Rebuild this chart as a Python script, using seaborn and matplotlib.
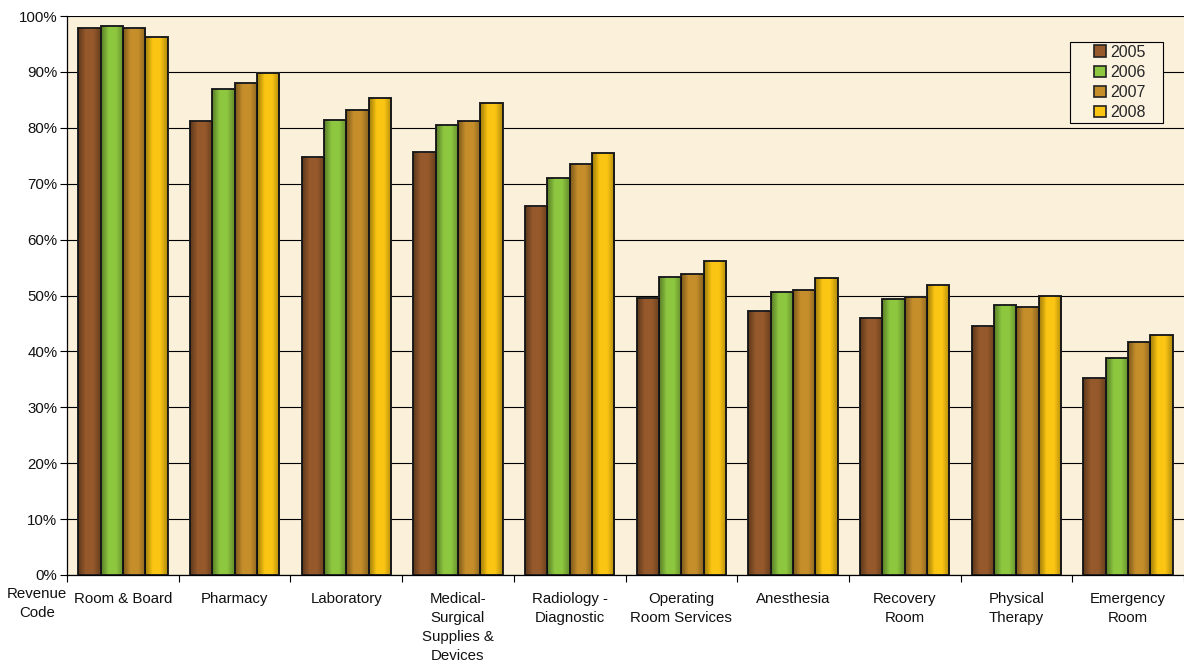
import matplotlib
matplotlib.use("Agg")
import matplotlib.pyplot as plt
import seaborn as sns
import pandas as pd
import numpy as np
from matplotlib.ticker import PercentFormatter, FixedLocator
from matplotlib.patches import Rectangle
from matplotlib.colors import LinearSegmentedColormap

categories = ["Room & Board", "Pharmacy", "Laboratory",
              "Medical-\nSurgical\nSupplies &\nDevices", "Radiology -\nDiagnostic",
              "Operating\nRoom Services", "Anesthesia", "Recovery\nRoom",
              "Physical\nTherapy", "Emergency\nRoom"]
years = ["2005", "2006", "2007", "2008"]
v2005 = [97.9, 81.3, 74.7, 75.7, 66.0, 49.6, 47.3, 46.0, 44.6, 35.3]
v2006 = [98.3, 87.0, 81.4, 80.5, 71.1, 53.3, 50.7, 49.4, 48.3, 38.9]
v2007 = [97.8, 88.0, 83.2, 81.3, 73.5, 53.8, 51.0, 49.7, 48.0, 41.7]
v2008 = [96.2, 89.8, 85.3, 84.4, 75.5, 56.1, 53.2, 51.9, 50.0, 42.9]
colors = ["#95592B", "#8DC63F", "#C58E2B", "#FBC513"]

rows = []
for y, vals in zip(years, [v2005, v2006, v2007, v2008]):
    for c, v in zip(categories, vals):
        rows.append({"cat": c, "year": y, "val": v})
df = pd.DataFrame(rows)

sns.set_theme(style="white")
plt.rcParams['font.family'] = ['Liberation Sans', 'DejaVu Sans']

fig = plt.figure(figsize=(11.84, 6.70), dpi=100)
ax = fig.add_axes([67/1184, 1-575/670, 1-67/1184, 559/670])
ax.set_facecolor("#FBF0DA")
fig.patch.set_facecolor("white")

sns.barplot(data=df, x="cat", y="val", hue="year", palette=colors,
            width=0.8, gap=0, edgecolor="#222222", linewidth=1.4,
            saturation=1, ax=ax, zorder=3, legend=False)

ax.set_ylim(0, 100)
ax.set_xlim(-0.5, len(categories) - 0.5)

# cylinder-like shading on each bar
shade = LinearSegmentedColormap.from_list(
    "shade", [(0, 0, 0, 0.38), (0, 0, 0, 0.0), (0, 0, 0, 0.0), (0, 0, 0, 0.30)])
grad = np.linspace(0, 1, 64).reshape(1, -1)
for p in list(ax.patches):
    x0, y0 = p.get_x(), p.get_y()
    w, h = p.get_width(), p.get_height()
    im = ax.imshow(grad, cmap=shade, aspect="auto", extent=(x0, x0 + w, y0, y0 + h),
                   zorder=3.5, interpolation="bilinear")
    im.set_clip_path(p)
ax.set_ylim(0, 100)
ax.set_xlim(-0.5, len(categories) - 0.5)
ax.set_aspect("auto")

ax.set_yticks(np.arange(0, 101, 10))
ax.yaxis.set_major_formatter(PercentFormatter(decimals=0))
ax.grid(axis="y", color="black", linewidth=0.8, zorder=1)
ax.set_axisbelow(True)
for s in ["top", "right"]:
    ax.spines[s].set_visible(False)
ax.spines["left"].set_color("black")
ax.spines["bottom"].set_color("black")
ax.spines["left"].set_linewidth(0.9)
ax.spines["bottom"].set_linewidth(0.9)

ax.tick_params(axis="y", which="major", left=True, length=5, width=0.8,
               color="black", labelsize=10.8, pad=2, direction="out")
ax.tick_params(axis="x", which="major", bottom=False, labelsize=10.8, pad=6)
ax.xaxis.set_minor_locator(FixedLocator(np.arange(-0.5, len(categories), 1)))
ax.tick_params(axis="x", which="minor", bottom=True, length=5, width=0.8,
               color="black", direction="out")
for lab in ax.get_xticklabels():
    lab.set_verticalalignment("top")
    lab.set_linespacing(1.45)
ax.set_xlabel("")
ax.set_ylabel("")
for lab in ax.get_yticklabels() + ax.get_xticklabels():
    lab.set_color("#111111")

ax.text(-0.027, -0.022, "Revenue\nCode", transform=ax.transAxes, ha="center",
        va="top", fontsize=10.8, linespacing=1.45, color="#111111")

# legend box
bx0, bx1 = (1070 - 67) / 1117, (1163 - 67) / 1117
by0, by1 = (575 - 123) / 559, (575 - 42) / 559
ax.add_patch(Rectangle((bx0, by0), bx1 - bx0, by1 - by0, transform=ax.transAxes,
                       facecolor="#FBF2E0", edgecolor="black", linewidth=0.8,
                       zorder=4))
handles = [Rectangle((0, 0), 1, 1, facecolor=c, edgecolor="#222222", linewidth=1.2)
           for c in colors]
leg = ax.legend(handles, years, loc="center",
                bbox_to_anchor=((bx0 + bx1) / 2 + 0.003, (by0 + by1) / 2),
                frameon=False, fontsize=11.5, handlelength=0.75, handleheight=0.75,
                handletextpad=0.25, labelspacing=0.32, borderpad=0.2)
leg.set_zorder(5)

fig.savefig("out.png", dpi=100)
